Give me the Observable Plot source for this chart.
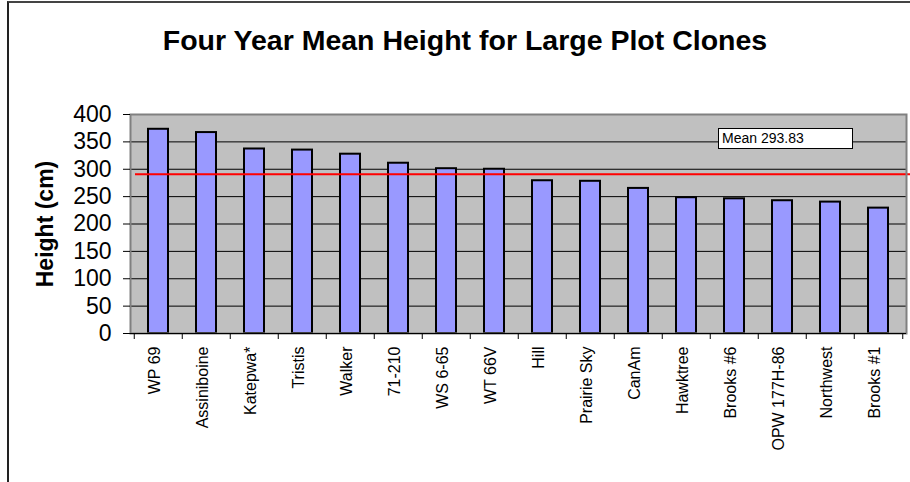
<!DOCTYPE html>
<html><head><meta charset="utf-8">
<script src="https://cdn.jsdelivr.net/npm/d3@7"></script>
<script src="https://cdn.jsdelivr.net/npm/@observablehq/plot@0.6"></script>
<style>
body{margin:0;background:#fff;font-family:"Liberation Sans",Arial,sans-serif}
#wrap{position:relative;width:910px;height:482px;overflow:hidden}
#border{position:absolute;left:7px;top:1px;width:920px;height:500px;border-left:2px solid #222;border-top:2px solid #444;pointer-events:none}
#title{position:absolute;left:0;width:930px;top:25px;text-align:center;font-weight:bold;font-size:28.5px;line-height:30px;white-space:nowrap}
#mean{position:absolute;left:718px;top:128px;width:130px;height:19px;border:1.5px solid #000;background:#fff;font-size:14px;line-height:19px;padding-left:3px;white-space:nowrap}
#chart{position:absolute;left:0;top:0}
</style></head>
<body>
<div id="wrap">
  <div id="chart"></div>
  <div id="title">Four Year Mean Height for Large Plot Clones</div>
  <div id="mean"></div>
  <div id="border"></div>
</div>
<script>
const clones = ["WP 69","Assiniboine","Katepwa*","Tristis","Walker","71-210","WS 6-65","WT 66V","Hill","Prairie Sky","CanAm","Hawktree","Brooks #6","OPW 177H-86","Northwest","Brooks #1"];
const heights = [373,367,337,335,327.5,311,301,300,279,278,265,248,246,242.5,240,229];
const meanLineValue = 291;
const meanLabel = "Mean 293.83";
const yTicks = [0,50,100,150,200,250,300,350,400];
const yLabel = "Height (cm)";

const data = clones.map((c,i)=>({clone:c, height:heights[i]}));
const W=910, H=482, mt=114, mb=149, ml=130, mr=4;
const step=(W-ml-mr)/clones.length;

const chart = Plot.plot({
  width:W, height:H, marginTop:mt, marginBottom:mb, marginLeft:ml, marginRight:mr,
  style:{fontFamily:"'Liberation Sans', Arial, sans-serif", background:"transparent", color:"#000"},
  x:{domain:clones, paddingInner:0.59, paddingOuter:0.295, label:null},
  y:{domain:[0,400], label:null},
  marks:[
    Plot.frame({fill:"#c0c0c0"}),
    Plot.ruleY(yTicks.slice(1,-1), {stroke:"#000", strokeWidth:1}),
    Plot.barY(data,{x:"clone", y:"height", fill:"#9999ff", stroke:"#000", strokeWidth:2}),
    Plot.ruleY([meanLineValue],{stroke:"#ff0000", strokeWidth:2, insetLeft:5, insetRight:-6}),
    Plot.frame({stroke:"#808080", strokeWidth:2}),
    Plot.ruleY([0],{stroke:"#000"}),
    Plot.ruleX(clones,{x:d=>d, y1:0, y2:0, insetBottom:-6, dx:-step/2, stroke:"#000"}),
    Plot.ruleX([clones[clones.length-1]],{x:d=>d, y1:0, y2:0, insetBottom:-6, dx:step/2, stroke:"#000"}),
    Plot.axisY({ticks:yTicks, tickSize:7, tickPadding:12, fontSize:23, line:true, label:null, stroke:"#000"}),
    Plot.axisX({tickSize:0, tickPadding:13, tickRotate:-90, fontSize:16, dx:-4, label:null}),
    Plot.text([yLabel],{frameAnchor:"left", textAnchor:"middle", dx:-85, rotate:-90, fontSize:23, fontWeight:"bold"})
  ]
});
document.getElementById("chart").append(chart);
document.getElementById("mean").textContent = meanLabel;
</script>
</body></html>
